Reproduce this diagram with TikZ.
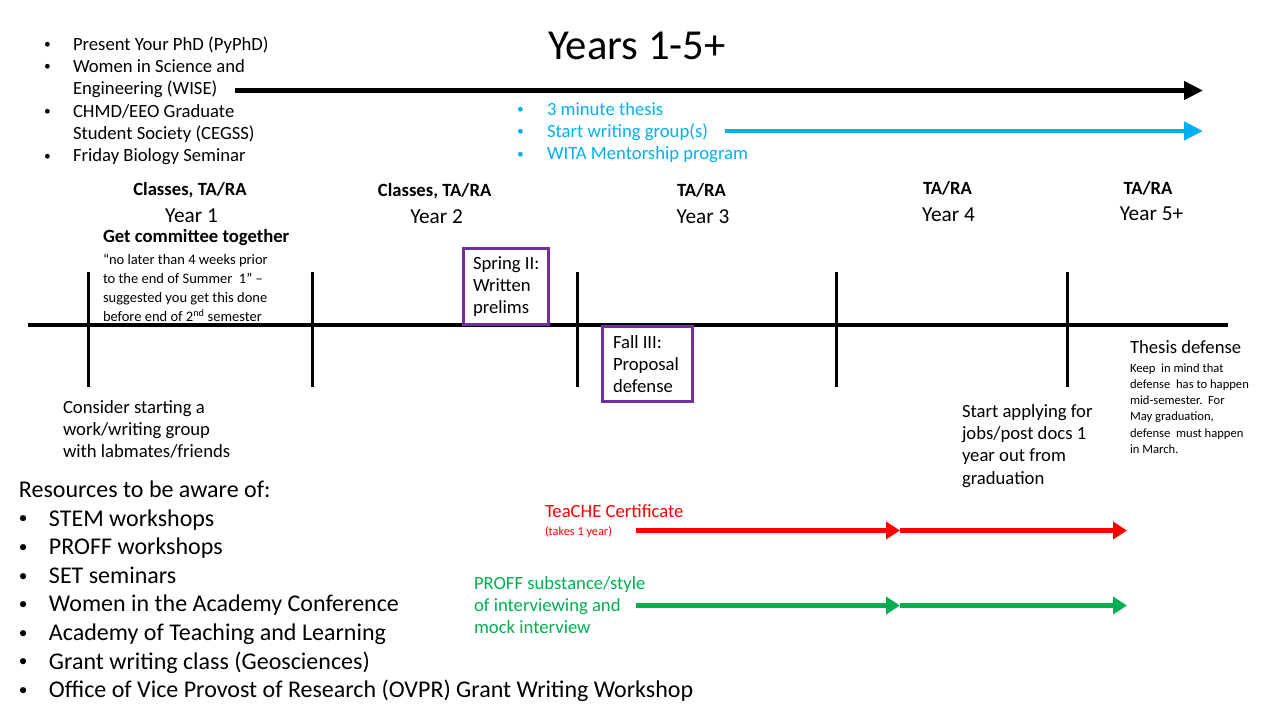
\documentclass[tikz,border=0pt]{standalone}
\usepackage{fontspec}
\setmainfont{Carlito}
\usetikzlibrary{arrows.meta}
\definecolor{pblue}{HTML}{00B0F0}
\definecolor{pred}{HTML}{FF0000}
\definecolor{pgreen}{HTML}{00B050}
\definecolor{ppurple}{HTML}{7030A0}
\newcommand\fsz[2]{\fontsize{#1pt}{#2pt}\selectfont}
\newcommand\lines[1]{\begin{tabular}[t]{@{}l@{}}#1\end{tabular}}
\newcommand\blist[2]{\begin{tabular}[t]{@{}p{#1}@{}l@{}}#2\end{tabular}}
\newcommand\bul{\raisebox{0.09em}{\fontsize{0.72em}{0pt}\selectfont •}}
\begin{document}
\begin{tikzpicture}[x=1pt,y=-1pt,
  txt/.style={inner sep=0pt,outer sep=0pt,anchor=base west,font=\fsz{18.67}{22.4}},
  hdr/.style={inner sep=0pt,anchor=base,font=\fsz{18.67}{22.4}\bfseries},
  yr/.style={inner sep=0pt,anchor=base,font=\fsz{21.3}{25.6}},
  small/.style={txt,font=\fsz{14.5}{19.3}},
  tiny/.style={txt,font=\fsz{12.6}{16.3}},
  res/.style={txt,font=\fsz{24}{28.6}},
  tl/.style={line width=4pt},
  tick/.style={line width=3pt},
  pbox/.style={draw=ppurple,line width=3.3pt,fill=white,inner sep=0pt,outer sep=0pt,anchor=north west},
  bigarrow/.style={line width=4.5pt,-{Triangle[length=19pt,width=18pt]}},
  midarrow/.style={line width=5.5pt,-{Triangle[length=14pt,width=17pt]}}
]
\useasboundingbox (0,0) rectangle (1280,720);

% title
\node[inner sep=0pt,anchor=base,font=\fsz{42.7}{51}] (title) at (637,59) {Years 1-5+};

% top-left list
\node[txt] (toplist) at (44,50) {\blist{29pt}{%
\bul&Present Your PhD (PyPhD)\\
\bul&Women in Science and\\
&Engineering (WISE)\\
\bul&CHMD/EEO Graduate\\
&Student Society (CEGSS)\\
\bul&Friday Biology Seminar}};

% blue list
\node[txt,text=pblue] (bluelist) at (517,115) {\blist{30pt}{%
\bul&3 minute thesis\\
\bul&Start writing group(s)\\
\bul&WITA Mentorship program}};

% long arrows
\coordinate (bkS) at (235,90.5);
\coordinate (bkE) at (1203,90.5);
\draw[bigarrow] (bkS) -- (bkE);
\coordinate (blS) at (725,131);
\coordinate (blE) at (1203,131);
\draw[bigarrow,draw=pblue,fill=pblue] (blS) -- (blE);

% year headers
\node[hdr] (h1) at (190,195) {Classes, TA/RA};
\node[yr] (y1) at (191.5,222) {Year 1};
\node[hdr] (h2) at (434.6,196) {Classes, TA/RA};
\node[yr] (y2) at (436.6,223) {Year 2};
\node[hdr] (h3) at (701.5,196) {TA/RA};
\node[yr] (y3) at (703,223) {Year 3};
\node[hdr] (h4) at (947.5,194) {TA/RA};
\node[yr] (y4) at (948.5,221) {Year 4};
\node[hdr] (h5) at (1148,194) {TA/RA};
\node[yr] (y5) at (1151.5,220) {Year 5+};

% committee
\node[txt,font=\fsz{18.67}{22.4}\bfseries] (comm) at (103,242) {Get committee together};
\node[small] (commq) at (103,264) {\lines{“no later than 4 weeks prior\\
to the end of Summer\ \ 1” –\\
suggested you get this done\\
before end of 2\textsuperscript{nd} semester}};

% timeline
\coordinate (tlL) at (28,325);
\coordinate (tlR) at (1228,325);
\draw[tl] (tlL) -- (tlR);
\foreach \x [count=\i] in {88,312.5,577,836,1067.5}{
  \coordinate (t\i a) at (\x,272);
  \coordinate (t\i b) at (\x,387);
  \draw[tick] (t\i a) -- (t\i b);
}

% boxes
\node[pbox,minimum width=85pt,minimum height=76pt] (spring) at (463.5,248.5) {};
\node[txt] (springT) at (473,269) {\lines{Spring II:\\Written\\prelims}};
\node[pbox,minimum width=90pt,minimum height=75pt] (fall) at (602.5,326.5) {};
\node[txt] (fallT) at (613,348) {\lines{Fall III:\\Proposal\\defense}};

% below timeline
\node[txt] (consider) at (63,413) {\lines{Consider starting a\\work/writing group\\with labmates/friends}};
\node[txt] (apply) at (962,417) {\lines{Start applying for\\jobs/post docs 1\\year out from\\graduation}};
\node[txt] (thesis) at (1130,353) {Thesis defense};
\node[tiny] (thesisN) at (1130,372) {\lines{Keep\ \ in mind that\\defense\ \ has to happen\\mid-semester.\ \ For\\May graduation,\\defense\ \ must happen\\in March.}};

% certificates
\node[txt,text=pred] (teache) at (545,517) {TeaCHE Certificate};
\node[txt,text=pred,font=\fsz{12.3}{14}] (teacheN) at (545,535) {(takes 1 year)};
\coordinate (rS) at (636,530.5);
\coordinate (rM) at (900,530.5);
\coordinate (rE) at (1127,530.5);
\draw[midarrow,draw=pred,fill=pred] (rS) -- (rM);
\draw[midarrow,draw=pred,fill=pred] (rM) -- (rE);

\node[txt,text=pgreen] (proff) at (474,589) {\lines{PROFF substance/style\\of interviewing and\\mock interview}};
\coordinate (gS) at (636,605.5);
\coordinate (gM) at (900,605.5);
\coordinate (gE) at (1127,605.5);
\draw[midarrow,draw=pgreen,fill=pgreen] (gS) -- (gM);
\draw[midarrow,draw=pgreen,fill=pgreen] (gM) -- (gE);

% resources
\node[res] (resH) at (19,497) {Resources to be aware of:};
\node[res] (resL) at (19,526) {\blist{30pt}{%
\bul&STEM workshops\\
\bul&PROFF workshops\\
\bul&SET seminars\\
\bul&Women in the Academy Conference\\
\bul&Academy of Teaching and Learning\\
\bul&Grant writing class (Geosciences)\\
\bul&Office of Vice Provost of Research (OVPR) Grant Writing Workshop}};
\end{tikzpicture}
\end{document}
